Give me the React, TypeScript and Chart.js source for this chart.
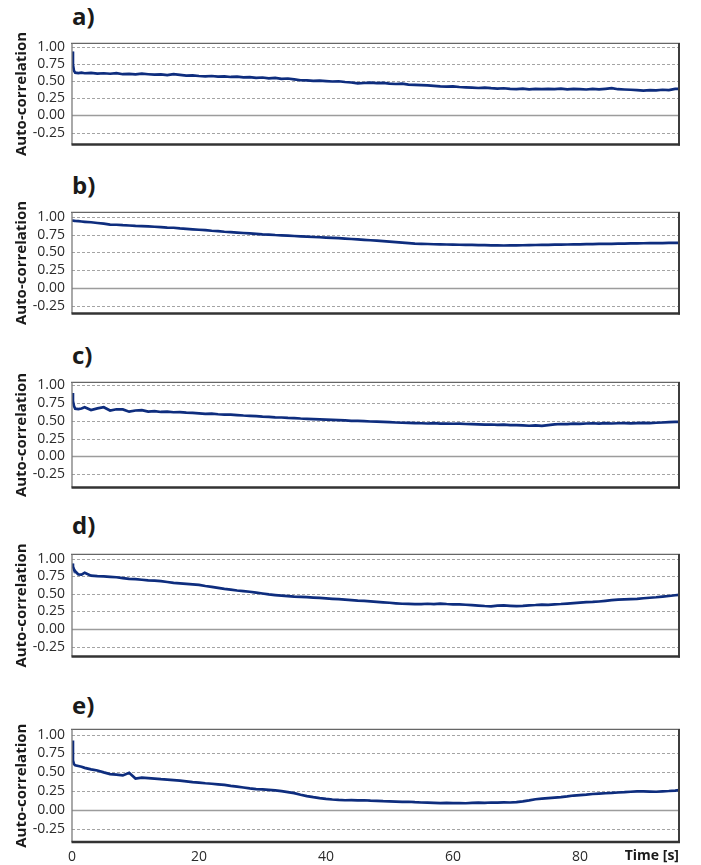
import React, { useEffect, useRef } from "react";
import { Chart, registerables } from "chart.js";

Chart.register(...registerables);

// Time axis (seconds)
const TIME = [
  0, 0.15, 0.3, 0.5, 1, 1.5, 2,
  3, 4, 5, 6, 7, 8, 9, 10, 11, 12,
  13, 14, 15, 16, 17, 18, 19, 20, 21, 22,
  23, 24, 25, 26, 27, 28, 29, 30, 31, 32,
  33, 34, 35, 36, 37, 38, 39, 40, 41, 42,
  43, 44, 45, 46, 47, 48, 49, 50, 51, 52,
  53, 54, 55, 56, 57, 58, 59, 60, 61, 62,
  63, 64, 65, 66, 67, 68, 69, 70, 71, 72,
  73, 74, 75, 76, 77, 78, 79, 80, 81, 82,
  83, 84, 85, 86, 87, 88, 89, 90, 91, 92,
  93, 94, 95, 95.6,
];

const SERIES_A = [
  0.93, 0.74, 0.65, 0.62, 0.615, 0.62, 0.612,
  0.618, 0.608, 0.612, 0.605, 0.615, 0.598, 0.603, 0.597, 0.606, 0.598,
  0.592, 0.596, 0.585, 0.6, 0.588, 0.578, 0.582, 0.572, 0.566, 0.572,
  0.562, 0.566, 0.558, 0.562, 0.552, 0.556, 0.545, 0.55, 0.538, 0.544,
  0.53, 0.536, 0.522, 0.51, 0.508, 0.502, 0.506, 0.498, 0.492, 0.496,
  0.485, 0.478, 0.465, 0.47, 0.475, 0.468, 0.472, 0.462, 0.456, 0.46,
  0.448, 0.444, 0.44, 0.436, 0.43, 0.422, 0.418, 0.422, 0.412, 0.408,
  0.402, 0.398, 0.404, 0.395, 0.39, 0.394, 0.386, 0.382, 0.388, 0.378,
  0.384, 0.38, 0.386, 0.382, 0.388, 0.379, 0.385, 0.381, 0.376, 0.384,
  0.378, 0.386, 0.395, 0.38, 0.376, 0.372, 0.368, 0.36, 0.366, 0.362,
  0.372, 0.368, 0.384, 0.385,
];

const SERIES_B = [
  0.95, 0.948, 0.946, 0.944, 0.94, 0.936, 0.932,
  0.925, 0.915, 0.905, 0.893, 0.89, 0.884, 0.88, 0.874, 0.87, 0.866,
  0.862, 0.856, 0.85, 0.848, 0.838, 0.832, 0.826, 0.82, 0.814, 0.806,
  0.8, 0.792, 0.786, 0.78, 0.774, 0.768, 0.762, 0.756, 0.752, 0.746,
  0.742, 0.738, 0.732, 0.727, 0.722, 0.718, 0.714, 0.71, 0.706, 0.702,
  0.696, 0.69, 0.684, 0.678, 0.672, 0.666, 0.66, 0.652, 0.645, 0.638,
  0.632, 0.626, 0.622, 0.619, 0.616, 0.614, 0.612, 0.61, 0.609, 0.607,
  0.606, 0.604, 0.603, 0.6, 0.602, 0.598, 0.601, 0.6, 0.602, 0.603,
  0.605, 0.606, 0.608, 0.61, 0.611, 0.612, 0.614, 0.615, 0.617, 0.618,
  0.62, 0.621, 0.622, 0.624, 0.626, 0.627, 0.629, 0.63, 0.631, 0.632,
  0.633, 0.634, 0.635, 0.635,
];

const SERIES_C = [
  0.89, 0.78, 0.71, 0.67, 0.665, 0.672, 0.69,
  0.652, 0.675, 0.69, 0.645, 0.662, 0.66, 0.628, 0.645, 0.65, 0.628,
  0.635, 0.624, 0.628, 0.62, 0.622, 0.615, 0.612, 0.605, 0.598, 0.6,
  0.592, 0.588, 0.586, 0.58, 0.574, 0.57, 0.566, 0.558, 0.555, 0.548,
  0.546, 0.54, 0.538, 0.532, 0.528, 0.524, 0.52, 0.517, 0.512, 0.508,
  0.505, 0.5, 0.498, 0.494, 0.49, 0.487, 0.484, 0.48, 0.476, 0.472,
  0.47, 0.467, 0.465, 0.462, 0.468, 0.46, 0.462, 0.458, 0.46, 0.455,
  0.452, 0.45, 0.446, 0.448, 0.442, 0.445, 0.438, 0.44, 0.436, 0.43,
  0.434, 0.428, 0.44, 0.45, 0.455, 0.452, 0.46, 0.456, 0.462, 0.465,
  0.46, 0.466, 0.462, 0.465, 0.468, 0.464, 0.467, 0.47, 0.468, 0.472,
  0.476, 0.48, 0.484, 0.486,
];

const SERIES_D = [
  0.93, 0.89, 0.85, 0.82, 0.775, 0.772, 0.8,
  0.758, 0.752, 0.748, 0.742, 0.736, 0.724, 0.712, 0.708, 0.7, 0.692,
  0.688, 0.68, 0.668, 0.655, 0.65, 0.642, 0.636, 0.628, 0.612, 0.6,
  0.584, 0.57, 0.56, 0.548, 0.54, 0.53, 0.518, 0.505, 0.492, 0.482,
  0.474, 0.468, 0.462, 0.458, 0.455, 0.448, 0.442, 0.436, 0.43, 0.425,
  0.418, 0.412, 0.405, 0.4, 0.394, 0.386, 0.38, 0.374, 0.366, 0.36,
  0.358, 0.354, 0.355, 0.36, 0.354, 0.362, 0.356, 0.352, 0.35, 0.346,
  0.34, 0.334, 0.328, 0.324, 0.332, 0.336, 0.33, 0.325, 0.33, 0.338,
  0.342, 0.348, 0.345, 0.352, 0.356, 0.362, 0.37, 0.376, 0.382, 0.386,
  0.392, 0.4, 0.41, 0.418, 0.422, 0.426, 0.43, 0.438, 0.445, 0.452,
  0.462, 0.47, 0.48, 0.485,
];

const SERIES_E = [
  0.92, 0.66, 0.61, 0.595, 0.585, 0.575, 0.56,
  0.54, 0.525, 0.5, 0.478, 0.47, 0.46, 0.495, 0.418, 0.43, 0.425,
  0.418, 0.41, 0.405, 0.398, 0.39, 0.382, 0.372, 0.365, 0.356, 0.35,
  0.342, 0.334, 0.322, 0.312, 0.3, 0.288, 0.28, 0.276, 0.27, 0.262,
  0.252, 0.24, 0.226, 0.205, 0.186, 0.172, 0.16, 0.15, 0.142, 0.136,
  0.132, 0.134, 0.13, 0.132, 0.127, 0.124, 0.12, 0.118, 0.114, 0.11,
  0.112, 0.106, 0.102, 0.1, 0.098, 0.095, 0.097, 0.094, 0.095, 0.092,
  0.098, 0.1, 0.096, 0.102, 0.1, 0.104, 0.102, 0.108, 0.118, 0.13,
  0.145, 0.152, 0.16, 0.166, 0.172, 0.182, 0.194, 0.2, 0.206, 0.214,
  0.22, 0.224, 0.228, 0.234, 0.238, 0.244, 0.25, 0.248, 0.246, 0.244,
  0.25, 0.254, 0.26, 0.265,
];

const SERIES = [SERIES_A, SERIES_B, SERIES_C, SERIES_D, SERIES_E];
const PANEL_LABELS = ["a)", "b)", "c)", "d)", "e)"];
const Y_TICKS = [-0.25, 0, 0.25, 0.5, 0.75, 1.0];
const X_TICKS = [0, 20, 40, 60, 80];
const X_MAX = 95.6;
const Y_MIN = [-0.425, -0.36, -0.44, -0.39, -0.42];
const Y_MAX = [1.046, 1.064, 1.04, 1.06, 1.068];
const Y_TITLE = "Auto-correlation";
const X_TITLE = "Time [s]";

// layout (pixels)
const PANEL_TOP = [30, 199, 369, 541, 716];
const PANEL_BOTTOM = [158, 327, 501, 670, 842];
const LABEL_BASELINE = [25, 194, 364, 534, 714];
const FONT = "'Open Sans', 'DejaVu Sans', sans-serif";
const LINE_COLOR = "#0e2d7e";

const framePlugin = {
  id: "frame",
  beforeDatasetsDraw(chart: any) {
    const { ctx, chartArea, scales } = chart;
    const { left, right } = chartArea;
    const y = scales.y;
    ctx.save();
    Y_TICKS.forEach((v) => {
      const py = Math.round(y.getPixelForValue(v)) + 0.5;
      ctx.beginPath();
      if (v === 0) {
        ctx.setLineDash([]);
        ctx.strokeStyle = "#9c9c9c";
        ctx.lineWidth = 1.5;
      } else {
        ctx.setLineDash([3, 2]);
        ctx.strokeStyle = "#a4a4a4";
        ctx.lineWidth = 1;
      }
      ctx.moveTo(left, py);
      ctx.lineTo(right, py);
      ctx.stroke();
    });
    ctx.restore();
  },
  afterDraw(chart: any) {
    const { ctx, chartArea } = chart;
    const { left, right, top, bottom } = chartArea;
    ctx.save();
    ctx.setLineDash([]);
    const seg = (x1: number, y1: number, x2: number, y2: number, c: string, w: number) => {
      ctx.beginPath();
      ctx.strokeStyle = c;
      ctx.lineWidth = w;
      ctx.moveTo(x1, y1);
      ctx.lineTo(x2, y2);
      ctx.stroke();
    };
    seg(left - 1, top, right + 1, top, "#666", 1.3);
    seg(left, top, left, bottom, "#7a7a7a", 1.3);
    seg(right, top - 0.5, right, bottom + 1, "#3e3e3e", 2);
    seg(left - 0.5, bottom, right + 1, bottom, "#333", 2.5);
    ctx.restore();
  },
};

function Panel({ idx }: { idx: number }) {
  const ref = useRef<HTMLCanvasElement | null>(null);
  const isLast = idx === SERIES.length - 1;
  const plotH = PANEL_BOTTOM[idx] - PANEL_TOP[idx];
  const padTop = 2;
  const padBottom = isLast ? 0 : 2;
  const xAxisH = isLast ? 23 : 0;
  const width = 685;
  const height = plotH + padTop + padBottom + xAxisH;

  useEffect(() => {
    if (!ref.current) return;
    const data = TIME.map((t, i) => ({ x: t, y: SERIES[idx][i] }));
    const chart = new Chart(ref.current, {
      type: "line",
      data: {
        datasets: [
          {
            data,
            borderColor: LINE_COLOR,
            borderWidth: 2.7,
            pointRadius: 0,
            tension: 0,
            fill: false,
          },
        ],
      },
      options: {
        animation: false,
        responsive: false,
        maintainAspectRatio: false,
        events: [],
        layout: { padding: { top: padTop, right: 6, bottom: padBottom, left: 0 } },
        plugins: { legend: { display: false }, tooltip: { enabled: false } },
        scales: {
          x: {
            type: "linear",
            min: 0,
            max: X_MAX,
            display: isLast,
            grid: { display: false, drawTicks: false },
            border: { display: false },
            afterBuildTicks: (s: any) => {
              s.ticks = X_TICKS.map((v) => ({ value: v }));
            },
            afterFit: (s: any) => {
              s.height = xAxisH;
            },
            ticks: {
              padding: 7,
              color: "#2a2a2a",
              font: { family: FONT, size: 14 },
              maxRotation: 0,
              autoSkip: false,
            },
          },
          y: {
            type: "linear",
            min: Y_MIN[idx],
            max: Y_MAX[idx],
            grid: { display: false, drawTicks: false },
            border: { display: false },
            afterBuildTicks: (s: any) => {
              s.ticks = Y_TICKS.map((v) => ({ value: v }));
            },
            afterFit: (s: any) => {
              s.width = 72;
            },
            ticks: {
              padding: 7,
              color: "#2a2a2a",
              font: { family: FONT, size: 14 },
              callback: (v: any) => Number(v).toFixed(2),
            },
            title: {
              display: true,
              text: Y_TITLE,
              color: "#1a1a1a",
              font: { family: FONT, size: 15, weight: "bold" },
              padding: { top: 13, bottom: 0 },
            },
          },
        },
      },
      plugins: [framePlugin],
    } as any);
    return () => chart.destroy();
  }, [idx]);

  return (
    <>
      <div
        style={{
          position: "absolute",
          left: 72,
          top: LABEL_BASELINE[idx] - 21,
          fontFamily: FONT,
          fontWeight: 700,
          fontSize: 24,
          lineHeight: "24px",
          color: "#1a1a1a",
          whiteSpace: "nowrap",
        }}
      >
        {PANEL_LABELS[idx]}
      </div>
      <canvas
        ref={ref}
        width={width}
        height={height}
        style={{
          position: "absolute",
          left: 0,
          top: PANEL_TOP[idx] - padTop,
          width,
          height,
        }}
      />
    </>
  );
}

export default function App() {
  return (
    <div
      style={{
        position: "absolute",
        left: 0,
        top: 0,
        width: 701,
        height: 865,
        background: "#fff",
        overflow: "hidden",
      }}
    >
      {SERIES.map((_, i) => (
        <Panel key={i} idx={i} />
      ))}
      <div
        style={{
          position: "absolute",
          right: 701 - 679,
          top: 847,
          fontFamily: FONT,
          fontWeight: 700,
          fontSize: 14,
          lineHeight: "16px",
          color: "#1a1a1a",
          whiteSpace: "nowrap",
        }}
      >
        {X_TITLE}
      </div>
    </div>
  );
}
